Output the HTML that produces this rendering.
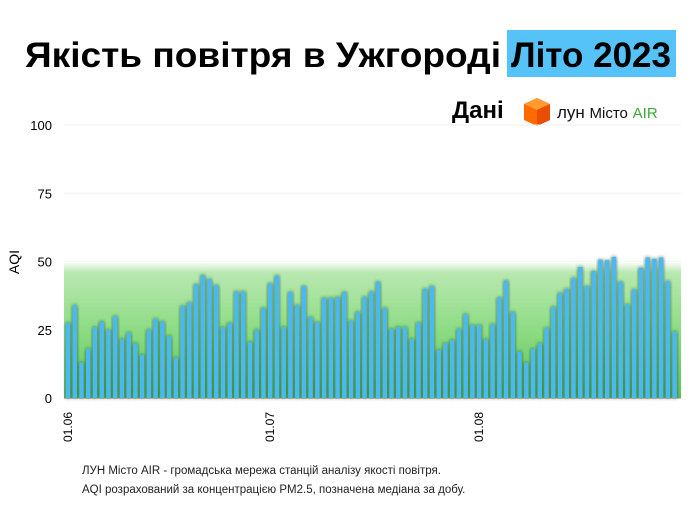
<!DOCTYPE html>
<html><head><meta charset="utf-8"><style>
body{margin:0;background:#fff;width:700px;height:521px;overflow:hidden;font-family:"Liberation Sans",sans-serif}
svg{position:absolute;left:0;top:0}
</style></head><body>
<svg width="700" height="521">
<defs>
<linearGradient id="g" x1="0" y1="0" x2="0" y2="1">
<stop offset="0" stop-color="#ffffff"/><stop offset="0.08" stop-color="#b9e8b0"/><stop offset="0.5" stop-color="#8ddc84"/><stop offset="1" stop-color="#5ec257"/>
</linearGradient>
<filter id="sh" x="-50%" y="-20%" width="200%" height="140%"><feDropShadow dx="0" dy="0" stdDeviation="1.8" flood-color="#1f4a1a" flood-opacity="0.8"/></filter>
</defs>
<rect x="0" y="0" width="700" height="521" fill="#fff"/>
<rect x="507" y="30" width="169" height="47" fill="#55c3f7"/>
<text x="25" y="67" font-size="35" font-weight="bold" fill="#000" textLength="476" lengthAdjust="spacingAndGlyphs">Якість повітря в Ужгороді</text>
<text x="511" y="67" font-size="35" font-weight="bold" fill="#000" textLength="160" lengthAdjust="spacingAndGlyphs">Літо 2023</text>
<g>
<text x="452" y="118" font-size="24" font-weight="bold" fill="#000">Дані</text>
<polygon points="537,98 550,104 550,120 537,126 524,120 524,104" fill="#ff6a00"/>
<polygon points="537,98 550,104 537,110 524,104" fill="#ff9a2e"/>
<polygon points="537,110 550,104 550,120 537,126" fill="#e84d00"/>
<text x="557" y="118" font-size="17" fill="#111">лун <tspan font-size="15">Місто</tspan> <tspan font-size="15" fill="#3aa935">AIR</tspan></text>
</g>
<g id="plot"></g>
<text transform="translate(19,262) rotate(-90)" text-anchor="middle" font-size="14" fill="#000">AQI</text>
<text x="82" y="474" font-size="11.5" fill="#222">ЛУН Місто AIR - громадська мережа станцій аналізу якості повітря.</text>
<text x="82" y="493" font-size="11.5" fill="#222">AQI розрахований за концентрацією PM2.5, позначена медіана за добу.</text>
</svg>
<script>
const june=[27.5,34,13,18,26,28,25,30,21.6,24,20,15.8,25,29,28,22.7,14.7,33.7,35,41.7,45,43.6,41.4,26,27.5,39,39,20.5,25,33];
const july=[42,44.8,26,38.8,34,41,29.6,27.8,36.7,36.7,37,38.8,28.3,31.5,37,39,42.6,33,25.2,26,26,21.6,27.6,40,41,17.6,20,21.2,25.3,30.7,26.7];
const august=[26.7,21.5,27,36.8,43,31.5,17,13,18,20,25.7,33.4,38.5,40,44,48,41,46.5,50.7,50.5,51.7,42.6,34.3,39.8,47.7,51.5,51,51.5,42.8,24.3];
const yTicks=[0,25,50,75,100];
const xTickLabels=["01.06","01.07","01.08"];
const xTickDays=[0,30,61];
const values=june.concat(july,august);
const NS="http://www.w3.org/2000/svg";
const g=document.getElementById('plot');
const x0=68,dayW=6.74,yBase=398,pxPer=2.73;
const X=d=>x0+d*dayW, Y=v=>yBase-v*pxPer;
function mk(t,a){const e=document.createElementNS(NS,t);for(const k in a)e.setAttribute(k,a[k]);g.appendChild(e);return e;}
yTicks.forEach(t=>{
 const l=mk('line',{x1:64,x2:681,y1:Y(t),y2:Y(t),stroke:'#efefef','stroke-width':1});
 
 
 const tx=mk('text',{x:52,y:Y(t)+5,'text-anchor':'end','font-size':13,fill:'#000'});
 tx.textContent=t;
 
 
});
const band=mk('rect',{x:64,y:Y(50),width:617,height:Y(0)-Y(50),fill:'url(#g)'});


const base=mk('line',{x1:64,x2:681,y1:Y(0),y2:Y(0),stroke:'#888','stroke-width':1});


values.forEach((v,i)=>{
 const r=mk('rect',{x:X(i)-2.2,y:Y(v),width:4.4,height:Y(0)-Y(v),fill:'#4cb8f2',filter:'url(#sh)'});
 
 
});
xTickLabels.forEach((lab,i)=>{
 const x=X(xTickDays[i])+4;
 const t=mk('text',{transform:`translate(${x},442) rotate(-90)`,'font-size':12,fill:'#000'});
 t.textContent=lab;
 
 
});
</script>
</body></html>
